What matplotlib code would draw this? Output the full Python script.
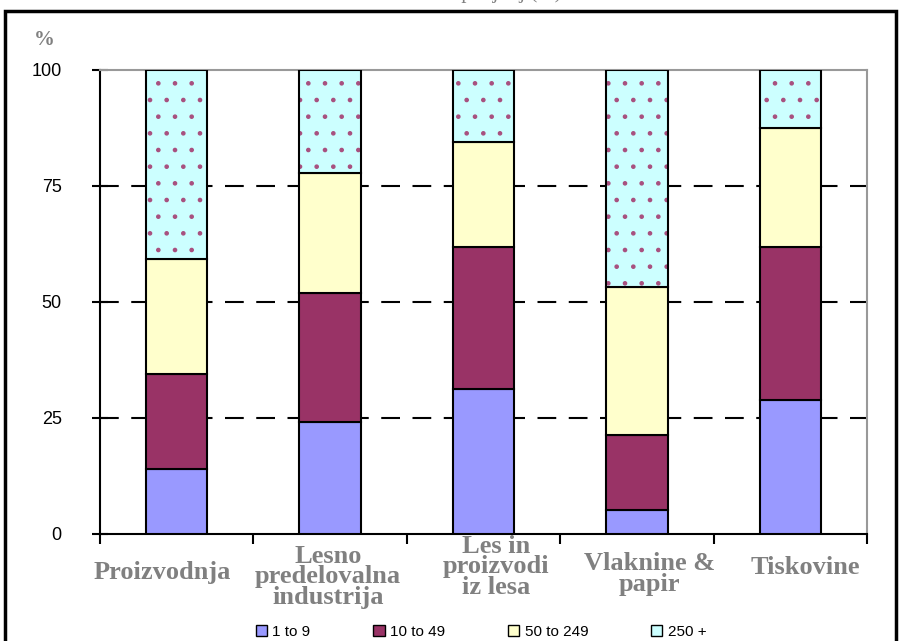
import matplotlib
matplotlib.use("Agg")
import matplotlib.pyplot as plt
from matplotlib.patches import Rectangle, Patch
import numpy as np

categories = ["Proizvodnja", "Lesno\npredelovalna\nindustrija", "Les in\nproizvodi\niz lesa",
              "Vlaknine &\npapir", "Tiskovine"]
series_names = ["1 to 9", "10 to 49", "50 to 249", "250 +"]
s_1_9 = [14.0, 24.1, 31.3, 5.2, 28.9]
s_10_49 = [20.5, 27.8, 30.6, 16.1, 33.0]
s_50_249 = [24.8, 25.9, 22.6, 31.9, 25.6]
s_250 = [40.7, 22.2, 15.5, 46.8, 12.5]
yticks = [0, 25, 50, 75, 100]

colors = ["#9999FF", "#993366", "#FFFFCC", "#CCFFFF"]
plt.rcParams['hatch.linewidth'] = 0.9

fig = plt.figure(figsize=(9.01, 6.41), dpi=100)
ax = fig.add_axes([100/901, 107/641, 767/901, 464/641])

x = np.arange(len(categories))
w = 0.40
bottom = np.zeros(len(categories))
for i, vals in enumerate([s_1_9, s_10_49, s_50_249, s_250]):
    vals = np.array(vals)
    if i == 3:
        ax.bar(x, vals, w, bottom=bottom, color=colors[i], edgecolor="#A8507F",
               linewidth=0, hatch=".", zorder=3)
        ax.bar(x, vals, w, bottom=bottom, facecolor="none", edgecolor="black",
               linewidth=1.5, zorder=4)
    else:
        ax.bar(x, vals, w, bottom=bottom, color=colors[i], edgecolor="black",
               linewidth=1.5, zorder=3)
    bottom += vals

ax.set_xlim(-0.5, len(categories) - 0.5)
ax.set_ylim(0, 100)
ax.set_yticks(yticks)
ax.set_yticklabels([str(t) for t in yticks], fontsize=13, family="Liberation Sans")
ax.tick_params(axis="y", direction="inout", length=11, width=1.5, pad=22, colors="black")
ax.set_xticks(np.arange(len(categories) + 1) - 0.5)
ax.set_xticklabels([])
ax.tick_params(axis="x", direction="out", length=7, width=1.5)

for t in yticks[1:-1]:
    ax.axhline(t, color="black", linestyle=(0, (9, 6)), linewidth=1.5, zorder=1)

ax.spines["left"].set_color("black")
ax.spines["left"].set_linewidth(1.5)
ax.spines["bottom"].set_color("black")
ax.spines["bottom"].set_linewidth(1.5)
ax.spines["top"].set_color("#999999")
ax.spines["top"].set_linewidth(1.5)
ax.spines["right"].set_color("#999999")
ax.spines["right"].set_linewidth(1.5)

# category labels
label_pos = [(162, 573), (328, 577), (496, 567), (650, 574), (805, 567)]
for lab, (px, py) in zip(categories, label_pos):
    fig.text(px/901, 1 - py/641, lab, ha="center", va="center", fontsize=19,
             fontweight="bold", family="Liberation Serif", color="#808080",
             linespacing=0.87)

fig.text(44/901, 1 - 40/641, "%", ha="center", va="center", fontsize=15,
         fontweight="bold", family="Liberation Serif", color="#808080")

# partially visible title (cut off at the top edge as in the reference)
fig.text(470/901, 1 + 7/641, "Struktura podjetij (%)", ha="center", va="center",
         fontsize=15, family="Liberation Serif", color="#808080")

# outer frame
fig.patches.append(Rectangle((5/901, -0.05), 891/901, 1.05 - 11/641,
                             transform=fig.transFigure, fill=False,
                             edgecolor="black", linewidth=2.5))

handles = [Patch(facecolor=c, edgecolor="black", linewidth=1.0) for c in colors]
fig.legend(handles, series_names, loc="center", bbox_to_anchor=(481/901, 1 - 632/641),
           ncol=4, frameon=False, handlelength=0.75, handleheight=0.75,
           handletextpad=0.35, columnspacing=4.1, prop={"family": "Liberation Sans", "size": 11})

fig.savefig("out.png", dpi=100)
